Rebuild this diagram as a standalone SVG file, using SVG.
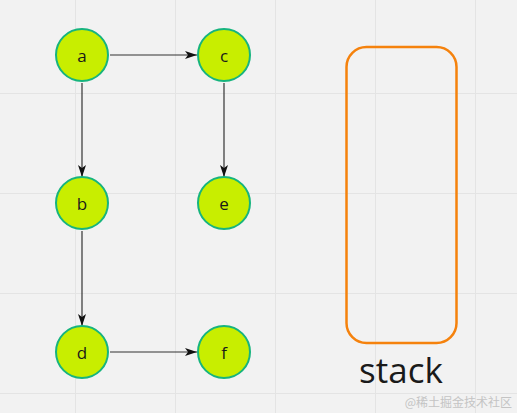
<svg xmlns="http://www.w3.org/2000/svg" width="517" height="413" viewBox="0 0 517 413">
  <style>
    .grid { stroke: #e4e4e4; stroke-width: 1; }
    .node circle { fill: #c8ee00; stroke: #16b47e; stroke-width: 2; }
    .node text { font-family: "Open Sans", "Noto Sans", sans-serif; font-size: 17px; fill: #1a1a1a; text-anchor: middle; dominant-baseline: central; }
    .edge { stroke: #333333; stroke-width: 1.2; fill: none; marker-end: url(#arrow); }
  </style>
  <defs>
    <marker id="arrow" viewBox="0 0 12 8" refX="12" refY="4" markerWidth="12" markerHeight="8" markerUnits="userSpaceOnUse" orient="auto">
      <path d="M0,0 L12,4 L0,8 L3,4 Z" fill="#111111"/>
    </marker>
  </defs>
  <rect width="517" height="413" fill="#f2f2f2"/>
  <g id="grid">
    <line class="grid" x1="75.5" y1="0" x2="75.5" y2="413"/>
    <line class="grid" x1="175.5" y1="0" x2="175.5" y2="413"/>
    <line class="grid" x1="275.5" y1="0" x2="275.5" y2="413"/>
    <line class="grid" x1="375.5" y1="0" x2="375.5" y2="413"/>
    <line class="grid" x1="475.5" y1="0" x2="475.5" y2="413"/>
    <line class="grid" x1="0" y1="93.5" x2="517" y2="93.5"/>
    <line class="grid" x1="0" y1="193.5" x2="517" y2="193.5"/>
    <line class="grid" x1="0" y1="293.5" x2="517" y2="293.5"/>
    <line class="grid" x1="0" y1="393.5" x2="517" y2="393.5"/>
  </g>
  <g id="connectors">
    <line class="edge" x1="110" y1="55" x2="197" y2="55"/>
    <line class="edge" x1="82" y1="83" x2="82" y2="177"/>
    <line class="edge" x1="224" y1="83" x2="224" y2="177"/>
    <line class="edge" x1="82" y1="231" x2="82" y2="326"/>
    <line class="edge" x1="110" y1="352" x2="197" y2="352"/>
  </g>
  <g id="node-a" class="node"><circle cx="82" cy="55" r="26"/><text x="82" y="55">a</text></g>
  <g id="node-c" class="node"><circle cx="224" cy="55" r="26"/><text x="224" y="55">c</text></g>
  <g id="node-b" class="node"><circle cx="82" cy="203" r="26"/><text x="82" y="203">b</text></g>
  <g id="node-e" class="node"><circle cx="224" cy="203" r="26"/><text x="224" y="203">e</text></g>
  <g id="node-d" class="node"><circle cx="82" cy="352" r="26"/><text x="82" y="352">d</text></g>
  <g id="node-f" class="node"><circle cx="224" cy="352" r="26"/><text x="224" y="352">f</text></g>
  <g id="stack">
    <rect x="346.5" y="47" width="110" height="296" rx="20" ry="20" fill="none" stroke="#f5820d" stroke-width="2.5"/>
    <text x="401" y="383" font-family="'Open Sans', 'Noto Sans', sans-serif" font-size="35" fill="#1a1a1a" text-anchor="middle">stack</text>
  </g>
  <text x="512" y="407" font-family="'Noto Sans CJK SC', sans-serif" font-size="12" fill="#c4c4c4" text-anchor="end">@稀土掘金技术社区</text>
</svg>
